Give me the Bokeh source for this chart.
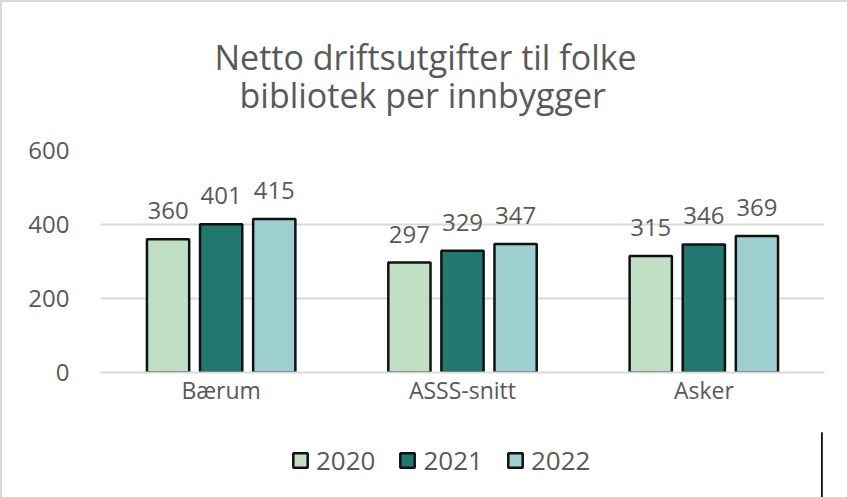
from bokeh.plotting import figure
from bokeh.layouts import column
from bokeh.models import ColumnDataSource, FactorRange, Range1d, Legend, LegendItem, SingleIntervalTicker, Title
from bokeh.transform import dodge
from bokeh.core.properties import value
from bokeh.embed import file_html
from bokeh.resources import INLINE

categories = ["Bærum", "ASSS-snitt", "Asker"]
years = ["2020", "2021", "2022"]
v2020 = [360, 297, 315]
v2021 = [401, 329, 346]
v2022 = [415, 347, 369]
colors = ["#c0dfc5", "#20786f", "#9dcfd0"]
title_lines = ["Netto driftsutgifter til folke", "bibliotek per innbygger"]

src = ColumnDataSource(dict(cat=categories, y2020=v2020, y2021=v2021, y2022=v2022,
                            l2020=[str(v) for v in v2020], l2021=[str(v) for v in v2021],
                            l2022=[str(v) for v in v2022]))

p = figure(frame_width=722, frame_height=220, x_range=FactorRange(*categories, range_padding=0),
           y_range=Range1d(0, 600), output_backend="svg", toolbar_location=None,
           min_border_left=98, min_border_right=25, min_border_top=148, min_border_bottom=62)
p.styles = {"border-top": "2px solid #d9d9d9", "border-left": "2px solid #d9d9d9"}

p.title.text = ""
standoffs = [66, -86]
title_offsets = [139, 114]
for s, off, line in zip(standoffs, title_offsets, reversed(title_lines)):
    t = Title(text=line, align="left", text_font="Open Sans", text_font_size="34px",
              text_font_style="normal", text_color="#595959", standoff=s, offset=off)
    p.add_layout(t, "above")

offsets = [-0.22, 0.0, 0.22]
fields = ["y2020", "y2021", "y2022"]
lfields = ["l2020", "l2021", "l2022"]
for yr, f, lf, off, c in zip(years, fields, lfields, offsets, colors):
    p.vbar(x=dodge("cat", off, range=p.x_range), top=f, width=0.175, source=src,
           fill_color=c, line_color="#111111", line_width=2.5)
    p.text(x=dodge("cat", off, range=p.x_range), y=f, text=lf, source=src,
           text_align="center", text_baseline="bottom", y_offset=-20,
           text_font=value("Open Sans"), text_font_size="24px", text_color="#595959")

p.outline_line_alpha = 0
p.xgrid.grid_line_color = None
p.ygrid.grid_line_color = "#d9d9d9"
p.ygrid.grid_line_width = 2
p.yaxis.ticker = SingleIntervalTicker(interval=200)
p.yaxis.axis_line_color = None
p.yaxis.major_tick_line_color = None
p.yaxis.minor_tick_line_color = None
p.yaxis.major_label_text_font = "Open Sans"
p.yaxis.major_label_text_font_size = "24px"
p.yaxis.major_label_text_color = "#595959"
p.yaxis.major_label_standoff = 25
p.xaxis.axis_line_color = "#d9d9d9"
p.xaxis.axis_line_width = 2
p.xaxis.major_tick_line_color = None
p.xaxis.minor_tick_line_color = None
p.xaxis.major_label_text_font = "Open Sans"
p.xaxis.major_label_text_font_size = "23px"
p.xaxis.major_label_text_color = "#595959"
p.xaxis.major_label_standoff = -5

# legend strip below the chart
pl = figure(width=845, height=65, x_range=Range1d(0, 1), y_range=Range1d(0, 1),
            x_axis_location=None, y_axis_location=None, output_backend="svg",
            toolbar_location=None, min_border=0)
pl.styles = {"border-left": "2px solid #d9d9d9"}
pl.outline_line_alpha = 0
pl.grid.visible = False
legend_src = ColumnDataSource(dict(x=[5], top=[5]))
items = []
for yr, c in zip(years, colors):
    r = pl.vbar(x="x", top="top", width=0.1, source=legend_src,
                fill_color=c, line_color="#111111", line_width=2.5)
    items.append(LegendItem(label=yr, renderers=[r]))
legend = Legend(items=items, orientation="horizontal", location=(191, 19),
                label_text_font="Open Sans", label_text_font_size="26px",
                label_text_color="#595959", glyph_width=18, glyph_height=18,
                spacing=23, label_standoff=7, border_line_alpha=0, background_fill_alpha=0,
                padding=0, margin=0)
pl.add_layout(legend, "center")

layout = column(p, pl, spacing=0)
open("out.html", "w").write(file_html(layout, INLINE))
